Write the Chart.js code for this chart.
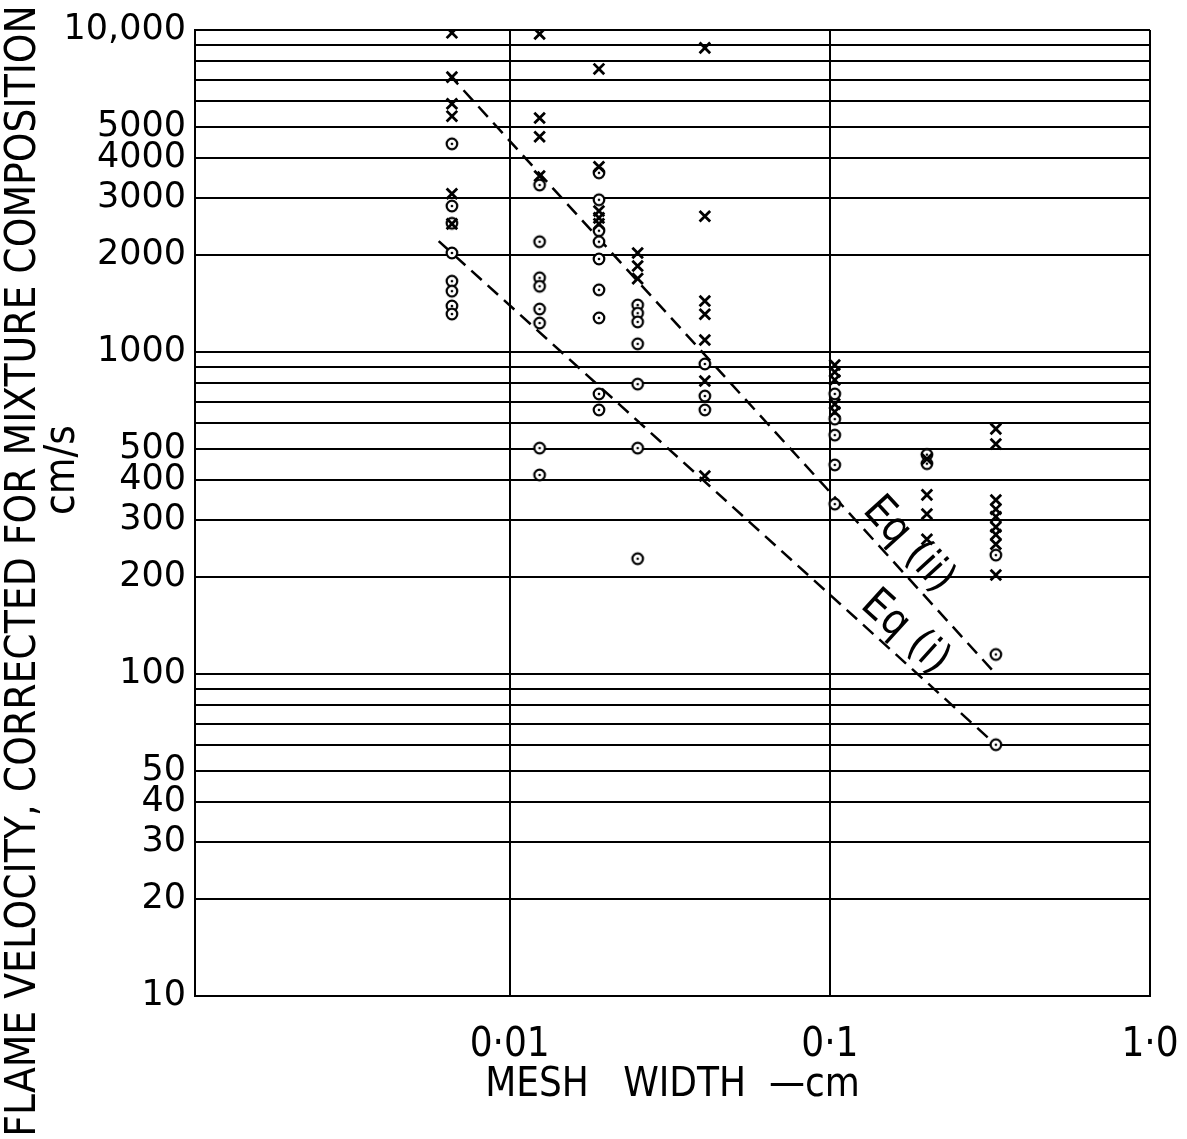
<!DOCTYPE html>
<html>
<head>
<meta charset="utf-8">
<title>Flame velocity vs mesh width</title>
<script src="https://cdn.jsdelivr.net/npm/chart.js@4.4.1/dist/chart.umd.min.js"></script>
<style>
  html, body { margin: 0; padding: 0; background: #fff; }
</style>
</head>
<body>
<canvas id="flameChart" width="1187" height="1139"></canvas>
<script>
// mesh width columns (cm)
const meshCols = [0.0066, 0.0124, 0.0190, 0.0251, 0.0407, 0.1036, 0.201, 0.330];

// flame velocity (cm/s), one list per mesh column
const crossVel = [
  [9800, 7140, 5900, 5400, 3100, 2500],
  [9720, 5330, 4660, 3520],
  [7570, 3760, 2740, 2610, 2500],
  [2030, 1850, 1690],
  [8800, 2640, 1440, 1310, 1090, 813, 412],
  [911, 867, 819, 689, 652],
  [465, 360, 314, 262],
  [577, 518, 347, 325, 308, 286, 271, 253, 203]
];
const circleVel = [
  [4430, 2840, 2510, 2030, 1660, 1545, 1390, 1312],
  [3300, 2200, 1700, 1600, 1360, 1230, 503, 415],
  [3600, 2970, 2380, 2200, 1945, 1560, 1276, 741, 661],
  [1400, 1320, 1240, 1060, 795, 503, 228],
  [918, 730, 661],
  [741, 619, 552, 446, 337],
  [480, 450],
  [234, 115, 60.3]
];

// dashed equation lines (end points)
const eqOneMesh = [0.0060, 0.33];
const eqOneVel = [2210, 60.3];
const eqTwoMesh = [0.00645, 0.33];
const eqTwoVel = [7300, 100];

// ticks
const velTicks = [10, 20, 30, 40, 50, 60, 70, 80, 90,
  100, 200, 300, 400, 500, 600, 700, 800, 900,
  1000, 2000, 3000, 4000, 5000, 6000, 7000, 8000, 9000, 10000];
const velLabels = [10, 20, 30, 40, 50, 100, 200, 300, 400, 500, 1000, 2000, 3000, 4000, 5000, 10000];
const meshTicks = [0.01, 0.1, 1];
const meshLabels = ['0·01', '0·1', '1·0'];

const yTitle = ['FLAME VELOCITY, CORRECTED FOR MIXTURE COMPOSITION', 'cm/s'];
const xTitle = 'MESH   WIDTH  \u2014cm';

function toPoints(xs, ys) {
  return xs.map((x, i) => ({ x: x, y: ys[i] }));
}

function columnPoints(cols) {
  const pts = [];
  cols.forEach((list, i) => list.forEach(v => pts.push({ x: meshCols[i], y: v })));
  return pts;
}

// circle with a dot in the middle
function makeRing() {
  const c = document.createElement('canvas');
  c.width = 16; c.height = 16;
  const g = c.getContext('2d');
  g.fillStyle = '#fff';
  g.strokeStyle = '#000';
  g.lineWidth = 2.2;
  g.beginPath(); g.arc(8, 8, 5.3, 0, Math.PI * 2); g.fill(); g.stroke();
  g.fillStyle = '#000';
  g.beginPath(); g.arc(8, 8, 1.3, 0, Math.PI * 2); g.fill();
  return c;
}

// titles and the rotated "Eq" labels
const labelPlugin = {
  id: 'labelPlugin',
  afterDraw(chart) {
    const { ctx, scales: { x, y } } = chart;
    ctx.save();
    ctx.fillStyle = '#000';
    ctx.textAlign = 'center';
    ctx.textBaseline = 'middle';
    ctx.font = '42px "DejaVu Sans Condensed"';

    ctx.save();
    ctx.translate(24, 571);
    ctx.rotate(-Math.PI / 2);
    ctx.fillText(yTitle[0], 0, 0);
    ctx.restore();

    ctx.save();
    ctx.translate(63, 470);
    ctx.rotate(-Math.PI / 2);
    ctx.fillText(yTitle[1], 0, 0);
    ctx.restore();

    const eqs = [
      { text: 'Eq (ii)', mesh: eqTwoMesh, vel: eqTwoVel },
      { text: 'Eq (i)', mesh: eqOneMesh, vel: eqOneVel }
    ];
    ctx.font = '43px "DejaVu Sans Condensed"';
    eqs.forEach(eq => {
      const x0 = x.getPixelForValue(eq.mesh[0]), y0 = y.getPixelForValue(eq.vel[0]);
      const x1 = x.getPixelForValue(eq.mesh[1]), y1 = y.getPixelForValue(eq.vel[1]);
      const ang = Math.atan2(y1 - y0, x1 - x0);
      const t = 0.81, off = 22;
      const cx = x0 + (x1 - x0) * t + Math.sin(ang) * off;
      const cy = y0 + (y1 - y0) * t - Math.cos(ang) * off;
      ctx.save();
      ctx.translate(cx, cy);
      ctx.rotate(ang);
      ctx.fillText(eq.text, 0, 0);
      ctx.restore();
    });
    ctx.restore();
  }
};

const ring = makeRing();
const ctx = document.getElementById('flameChart').getContext('2d');
new Chart(ctx, {
  type: 'scatter',
  data: {
    datasets: [
      {
        label: 'crosses',
        data: columnPoints(crossVel),
        pointStyle: 'crossRot',
        pointRadius: 7.5,
        borderColor: '#000',
        borderWidth: 2.8
      },
      {
        label: 'circles',
        data: columnPoints(circleVel),
        pointStyle: ring,
        pointRadius: 6
      },
      {
        label: 'Eq (ii)',
        data: toPoints(eqTwoMesh, eqTwoVel),
        showLine: true,
        borderColor: '#000',
        borderWidth: 2.5,
        borderDash: [14, 8],
        pointRadius: 0
      },
      {
        label: 'Eq (i)',
        data: toPoints(eqOneMesh, eqOneVel),
        showLine: true,
        borderColor: '#000',
        borderWidth: 2.5,
        borderDash: [14, 8],
        pointRadius: 0
      }
    ]
  },
  options: {
    responsive: false,
    animation: false,
    layout: { padding: { top: 29, right: 37, bottom: 0, left: 0 } },
    plugins: {
      legend: { display: false },
      tooltip: { enabled: false }
    },
    scales: {
      x: {
        type: 'logarithmic',
        min: 0.00104,
        max: 1,
        afterBuildTicks: s => { s.ticks = meshTicks.map(v => ({ value: v })); },
        afterFit: s => { s.height = 143; s.paddingLeft = 0; s.paddingRight = 0; },
        ticks: {
          autoSkip: false,
          maxRotation: 0,
          padding: 26,
          color: '#000',
          font: { family: 'DejaVu Sans Condensed', size: 40 },
          callback: (v, i) => meshLabels[i]
        },
        grid: { color: '#000', lineWidth: 2, drawTicks: false },
        border: { color: '#000', width: 2 },
        title: {
          display: true,
          text: xTitle,
          color: '#000',
          font: { family: 'DejaVu Sans Condensed', size: 40 },
          padding: { top: 0, bottom: 29 }
        }
      },
      y: {
        type: 'logarithmic',
        min: 10,
        max: 10000,
        afterBuildTicks: s => { s.ticks = velTicks.map(v => ({ value: v })); },
        afterFit: s => { s.width = 195; },
        ticks: {
          autoSkip: false,
          padding: 9,
          color: '#000',
          font: { family: 'DejaVu Sans', size: 35 },
          callback: v => velLabels.includes(v) ? (v === 10000 ? '10,000' : String(v)) : ''
        },
        grid: { color: '#000', lineWidth: 2, drawTicks: false },
        border: { color: '#000', width: 2 }
      }
    }
  },
  plugins: [labelPlugin]
});
</script>
</body>
</html>
